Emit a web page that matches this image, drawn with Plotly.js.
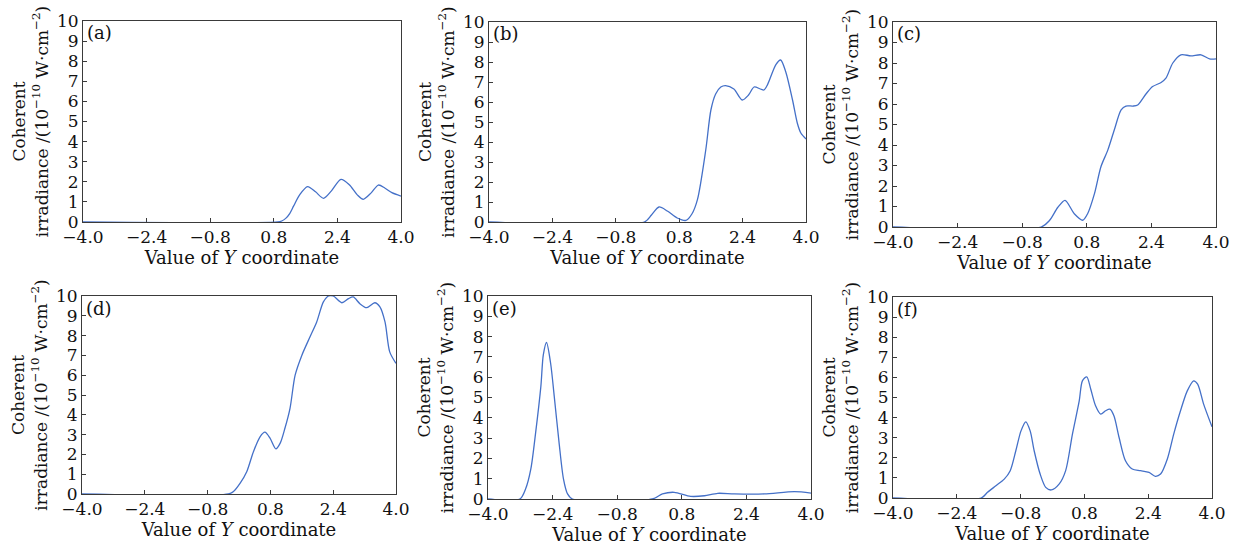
<!DOCTYPE html>
<html>
<head>
<meta charset="utf-8">
<script src="https://cdn.plot.ly/plotly-3.0.1.min.js"></script>
<style>html,body{margin:0;padding:0;background:#fff;}#chart{width:1242px;height:551px;}</style>
</head>
<body>
<div id="chart"></div>
<script>
// ---- data ----
const panelLabels = ["(a)", "(b)", "(c)", "(d)", "(e)", "(f)"];
const xTickVals = [-4.0, -2.4, -0.8, 0.8, 2.4, 4.0];
const xTickText = ["\u22124.0", "\u22122.4", "\u22120.8", "0.8", "2.4", "4.0"];
const yTickVals = [0, 1, 2, 3, 4, 5, 6, 7, 8, 9, 10];
const xTitle = "Value of <i>Y</i> coordinate";
const yTitle = "Coherent<br>irradiance /(10<sup>\u221210</sup> W\u00b7cm<sup>\u22122</sup>)";

const xA = [-4, 0.9, 1.0, 1.1, 1.2, 1.3, 1.45, 1.65, 1.85, 2.05, 2.25, 2.49, 2.7, 2.9, 3.05, 3.25, 3.43, 3.6, 3.77, 4.0];
const yA = [0, 0, 0.05, 0.18, 0.42, 0.8, 1.35, 1.76, 1.5, 1.18, 1.55, 2.12, 1.85, 1.35, 1.13, 1.45, 1.84, 1.68, 1.46, 1.29];

const xB = [-4, -0.08, 0.1, 0.29, 0.5, 0.75, 0.97, 1.12, 1.26, 1.47, 1.6, 1.72, 1.85, 1.97, 2.18, 2.39, 2.55, 2.69, 2.85, 2.94, 3.03, 3.24, 3.36, 3.49, 3.66, 3.78, 3.87, 4.0];
const yB = [0, 0, 0.35, 0.75, 0.55, 0.2, 0.08, 0.4, 1.12, 3.6, 5.6, 6.4, 6.75, 6.82, 6.65, 6.1, 6.35, 6.75, 6.65, 6.6, 6.87, 7.87, 8.1, 7.5, 6.1, 4.95, 4.45, 4.15];

const xC = [-4, -0.33, -0.12, 0.08, 0.26, 0.49, 0.70, 0.82, 0.99, 1.15, 1.32, 1.48, 1.65, 1.77, 1.94, 2.06, 2.27, 2.43, 2.64, 2.76, 2.93, 3.13, 3.38, 3.63, 3.84, 4.0];
const yC = [0, 0, 0.33, 0.95, 1.3, 0.65, 0.33, 0.65, 1.63, 2.94, 3.75, 4.73, 5.71, 5.9, 5.9, 5.95, 6.5, 6.85, 7.05, 7.26, 8.0, 8.4, 8.35, 8.4, 8.2, 8.2];

const xD = [-4, -0.27, -0.14, 0.03, 0.2, 0.37, 0.54, 0.66, 0.79, 0.94, 1.05, 1.17, 1.3, 1.43, 1.6, 1.81, 1.98, 2.15, 2.28, 2.4, 2.62, 2.79, 2.91, 3.08, 3.25, 3.46, 3.59, 3.72, 3.84, 4.0];
const yD = [0, 0, 0.13, 0.55, 1.14, 2.15, 2.9, 3.12, 2.82, 2.28, 2.57, 3.32, 4.33, 6.0, 7.0, 7.94, 8.69, 9.7, 10.0, 10.0, 9.66, 9.87, 9.95, 9.61, 9.41, 9.66, 9.45, 8.69, 7.18, 6.6];

const xE = [-4, -3.21, -3.07, -2.94, -2.82, -2.69, -2.63, -2.55, -2.45, -2.36, -2.24, -2.13, -2.03, -1.91, 0.07, 0.32, 0.61, 1.02, 1.36, 1.69, 2.1, 2.84, 3.59, 4.0];
const yE = [0, 0, 0.49, 1.47, 3.27, 5.56, 7.1, 7.71, 6.7, 5.07, 2.78, 0.98, 0.25, 0, 0, 0.25, 0.33, 0.13, 0.16, 0.28, 0.25, 0.25, 0.36, 0.29];

const xF = [-4, -1.79, -1.63, -1.42, -1.21, -1.06, -0.92, -0.79, -0.67, -0.56, -0.46, -0.31, -0.17, -0.03, 0.17, 0.33, 0.5, 0.67, 0.75, 0.86, 0.96, 1.08, 1.21, 1.33, 1.44, 1.54, 1.67, 1.83, 2.0, 2.21, 2.42, 2.58, 2.71, 2.88, 3.04, 3.21, 3.38, 3.54, 3.64, 3.79, 4.0];
const yF = [0, 0, 0.28, 0.61, 0.94, 1.36, 2.35, 3.34, 3.79, 3.34, 2.35, 1.19, 0.53, 0.4, 0.7, 1.36, 3.18, 4.83, 5.83, 6.03, 5.41, 4.59, 4.17, 4.34, 4.42, 4.09, 3.01, 1.85, 1.44, 1.36, 1.27, 1.08, 1.19, 1.94, 3.18, 4.34, 5.33, 5.83, 5.66, 4.67, 3.54];

const seriesX = [xA, xB, xC, xD, xE, xF];
const seriesY = [yA, yB, yC, yD, yE, yF];

// ---- layout (plot boxes in pixels: left, right, top, bottom) ----
const W = 1242, H = 551;
const boxes = [
  [83, 401, 21, 222], [489, 806, 22, 222], [893, 1216, 22, 227],
  [82, 396, 296, 494], [488, 811, 296, 499], [893, 1212, 297, 498]
];
const FONT = "DejaVu Serif";
const lineColor = "#4470c8";
const axisColor = "#3a3a3a";
const textColor = "#111";

const traces = [];
const layout = {
  width: W, height: H,
  margin: {l: 0, r: 0, t: 0, b: 0},
  paper_bgcolor: "#fff", plot_bgcolor: "#fff",
  showlegend: false,
  font: {family: FONT, size: 17, color: textColor},
  annotations: []
};

for (let i = 0; i < 6; i++) {
  const n = i === 0 ? "" : String(i + 1);
  const [L, R, T, B] = boxes[i];
  traces.push({
    x: seriesX[i], y: seriesY[i],
    xaxis: "x" + n, yaxis: "y" + n,
    type: "scatter", mode: "lines",
    line: {color: lineColor, width: 1.3, shape: "spline", smoothing: 0.8},
    hoverinfo: "x+y"
  });
  layout["xaxis" + n] = {
    domain: [L / W, R / W], anchor: "y" + n,
    range: [-4, 4],
    tickmode: "array", tickvals: xTickVals, ticktext: xTickText,
    ticks: "inside", ticklen: 4, tickcolor: axisColor,
    showline: true, linecolor: axisColor, linewidth: 1, mirror: true,
    showgrid: false, zeroline: false, layer: "below traces",
    tickfont: {family: FONT, size: 17, color: textColor},
    title: {text: xTitle, font: {family: FONT, size: 18, color: textColor}, standoff: 4}
  };
  layout["yaxis" + n] = {
    domain: [1 - B / H, 1 - T / H], anchor: "x" + n,
    range: [0, 10],
    tickmode: "array", tickvals: yTickVals,
    ticks: "inside", ticklen: 4, tickcolor: axisColor,
    showline: true, linecolor: axisColor, linewidth: 1, mirror: true,
    showgrid: false, zeroline: false, layer: "below traces",
    tickfont: {family: FONT, size: 17, color: textColor},
    title: {text: yTitle, font: {family: FONT, size: 17, color: textColor}, standoff: 4}
  };
  layout.annotations.push({
    text: panelLabels[i], xref: "paper", yref: "paper",
    x: (L + 2) / W, y: 1 - (T + 12) / H,
    xanchor: "left", yanchor: "middle", showarrow: false,
    font: {family: FONT, size: 18, color: textColor}
  });
}

Plotly.newPlot("chart", traces, layout, {staticPlot: true, displayModeBar: false});
</script>
</body>
</html>
